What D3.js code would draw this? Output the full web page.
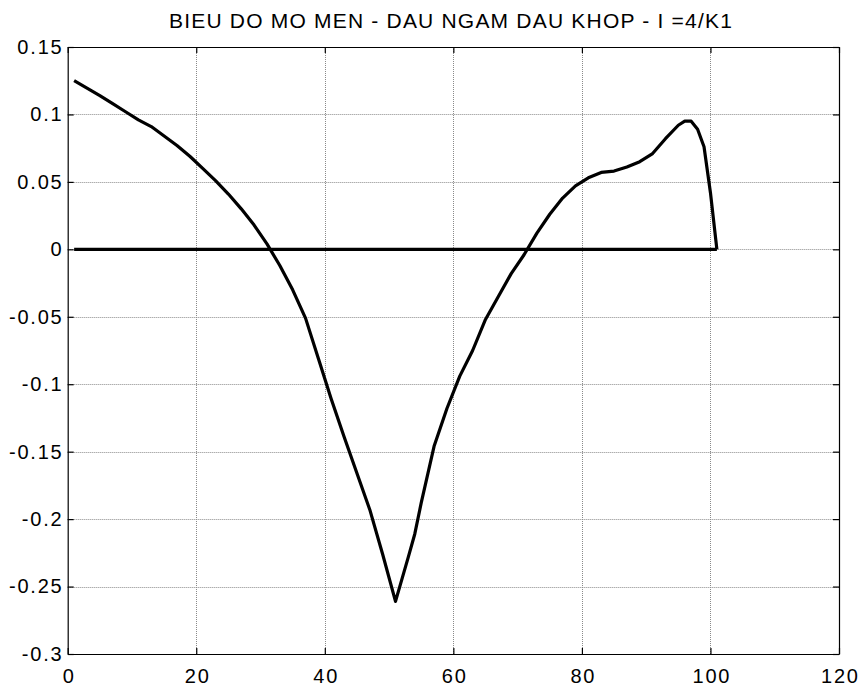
<!DOCTYPE html>
<html>
<head>
<meta charset="utf-8">
<script src="https://cdn.jsdelivr.net/npm/d3@7"></script>
<style>
  html, body { margin: 0; padding: 0; background: #fff; }
  svg { display: block; }
  text { font-family: "Liberation Sans", Arial, sans-serif; fill: #000; }
</style>
</head>
<body>
<svg id="chart" width="865" height="693"></svg>
<script>
// ---- data ----
const titleText = "BIEU DO MO MEN - DAU NGAM DAU KHOP - I =4/K1";
const xValues = [1, 3, 5, 7, 9, 11, 13, 15, 17, 19, 21, 23, 25, 27, 29, 31, 33, 35, 37, 39,
                 41, 43, 45, 47, 49, 51, 53, 54, 55, 57, 59, 61, 63, 65, 67, 69, 71, 73, 75, 77,
                 79, 81, 83, 85, 87, 89, 91, 93, 95, 96, 97, 98, 99, 100, 101];
const momentValues = [0.125, 0.1195, 0.114, 0.108, 0.102, 0.096, 0.091, 0.084, 0.077, 0.069,
                      0.060, 0.051, 0.041, 0.030, 0.018, 0.004, -0.012, -0.030, -0.051, -0.081,
                      -0.111, -0.139, -0.166, -0.193, -0.226, -0.261, -0.228, -0.211, -0.188, -0.146,
                      -0.118, -0.094, -0.075, -0.052, -0.035, -0.018, -0.004, 0.012, 0.026, 0.038,
                      0.047, 0.053, 0.057, 0.058, 0.061, 0.065, 0.071, 0.082, 0.092, 0.095,
                      0.095, 0.089, 0.076, 0.042, 0.0];
const baselineX = [1, 101];
const baselineY = [0, 0];
const xTicks = [0, 20, 40, 60, 80, 100, 120];
const yTicks = [0.15, 0.1, 0.05, 0, -0.05, -0.1, -0.15, -0.2, -0.25, -0.3];
const yTickLabels = ["0.15", "0.1", "0.05", "0", "-0.05", "-0.1", "-0.15", "-0.2", "-0.25", "-0.3"];

// ---- layout ----
const svg = d3.select("#chart");
const L = 67.7, R = 839, T = 47, B = 654;
const x = d3.scaleLinear().domain([0, 120]).range([L, R]);
const y = d3.scaleLinear().domain([-0.3, 0.15]).range([B, T]);

const fontSize = 20;
const spacing = 1.8;

// grid
const grid = svg.append("g");
grid.selectAll("line.vg").data(xTicks.filter(d => d > 0 && d < 120)).join("line")
  .attr("x1", d => Math.round(x(d)) + 0.5).attr("x2", d => Math.round(x(d)) + 0.5)
  .attr("y1", T).attr("y2", B)
  .attr("stroke", "#8a8a8a").attr("stroke-width", 1).attr("stroke-dasharray", "1,1");
grid.selectAll("line.hg").data(yTicks.filter(d => d > -0.3 && d < 0.15)).join("line")
  .attr("y1", d => Math.round(y(d)) + 0.5).attr("y2", d => Math.round(y(d)) + 0.5)
  .attr("x1", L).attr("x2", R)
  .attr("stroke", "#8a8a8a").attr("stroke-width", 1).attr("stroke-dasharray", "1,1");

// axes (box with inward ticks)
const tickLen = 6;
const axB = d3.axisBottom(x).tickValues(xTicks).tickSizeInner(-tickLen).tickSizeOuter(0).tickPadding(14.3).tickFormat(d3.format("d"));
const axT = d3.axisTop(x).tickValues(xTicks).tickSizeInner(-tickLen).tickSizeOuter(0).tickFormat("");
const axL = d3.axisLeft(y).tickValues(yTicks).tickSizeInner(-tickLen).tickSizeOuter(0).tickPadding(4.2)
  .tickFormat((d, i) => yTickLabels[i]);
const axR = d3.axisRight(y).tickValues(yTicks).tickSizeInner(-tickLen).tickSizeOuter(0).tickFormat("");

function style(g) {
  g.selectAll(".domain").attr("stroke", "#000").attr("stroke-width", 1.2);
  g.selectAll(".tick line").attr("stroke", "#000").attr("stroke-width", 1.2);
  g.selectAll("text").attr("font-size", fontSize).attr("font-family", "Liberation Sans, Arial, sans-serif")
    .style("letter-spacing", spacing + "px").attr("fill", "#000");
}
svg.append("g").attr("transform", `translate(0,${B})`).call(axB).call(style)
  .selectAll("text").attr("dx", spacing / 2);
svg.append("g").attr("transform", `translate(0,${T})`).call(axT).call(style);
svg.append("g").attr("transform", `translate(${L},0)`).call(axL).call(style);
svg.append("g").attr("transform", `translate(${R},0)`).call(axR).call(style);

// baseline (zero line)
const line = d3.line().x(d => x(d[0])).y(d => y(d[1]));
svg.append("path")
  .datum(baselineX.map((d, i) => [d, baselineY[i]]))
  .attr("d", line).attr("fill", "none").attr("stroke", "#000").attr("stroke-width", 3.2);

// moment curve
svg.append("path")
  .datum(xValues.map((d, i) => [d, momentValues[i]]))
  .attr("d", line).attr("fill", "none").attr("stroke", "#000")
  .attr("stroke-width", 3.2).attr("stroke-linejoin", "round");

// title
svg.append("text")
  .attr("x", 451).attr("y", 28)
  .attr("text-anchor", "middle")
  .attr("font-size", 21)
  .style("letter-spacing", "1.2px")
  .text(titleText);
</script>
</body>
</html>
